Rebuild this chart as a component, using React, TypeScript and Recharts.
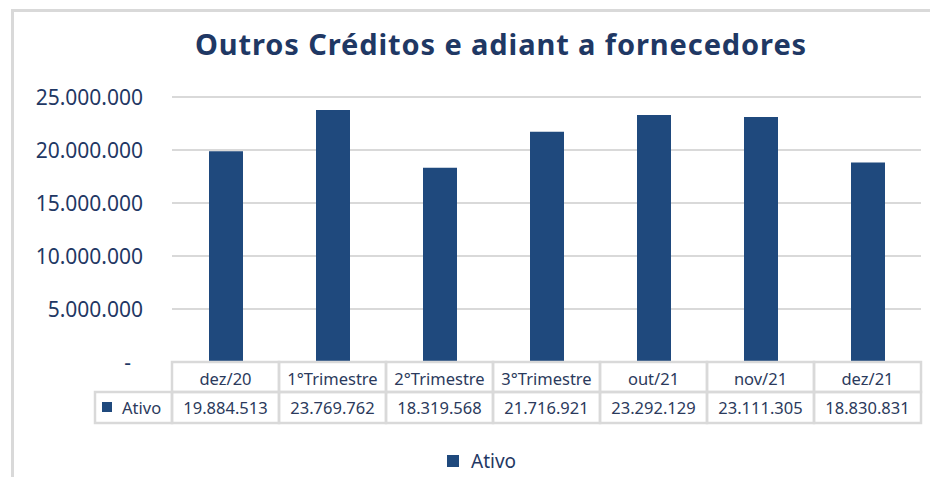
import React from "react";
import { BarChart, Bar, XAxis, YAxis, CartesianGrid, Legend } from "recharts";

const categories = ["dez/20", "1°Trimestre", "2°Trimestre", "3°Trimestre", "out/21", "nov/21", "dez/21"];
const ativoValues = [19884513, 23769762, 18319568, 21716921, 23292129, 23111305, 18830831];
const yTicks = [0, 5000000, 10000000, 15000000, 20000000, 25000000];
const seriesName = "Ativo";
const titleText = "Outros Créditos e adiant a fornecedores";

const data = categories.map((c, i) => ({ category: c, ativo: ativoValues[i] }));

const W = 930;
const H = 477;
const MARGIN = { top: 97, right: 9, bottom: 4, left: 12 };
const Y_W = 160;
const X_H = 61;
const LEGEND_H = 50;
const PLOT_LEFT = MARGIN.left + Y_W;
const PLOT_W = W - PLOT_LEFT - MARGIN.right;
const CELL_W = PLOT_W / categories.length;
const HEAD_H = 30;
const ROW_H = 31;
const LEG_CELL_W = 77;

const BAR = "#1F497D";
const TEXT = "#1F3864";
const TABLE_TEXT = "#2B3A5C";
const GRID = "#D9D9D9";
const FONT = "'Noto Sans', 'Open Sans', sans-serif";

const fmt = (n: number) => String(Math.round(n)).replace(/\B(?=(\d{3})+(?!\d))/g, ".");

const YTick = (props: any) => {
  const { x, y, payload } = props;
  const v = payload.value;
  if (v === 0) {
    return (
      <text x={x - 12} y={y} textAnchor="end" dominantBaseline="central" fill={TEXT} fontSize={21} fontFamily={FONT}>
        -
      </text>
    );
  }
  return (
    <text x={x} y={y} textAnchor="end" dominantBaseline="central" fill={TEXT} fontSize={21} fontFamily={FONT}>
      {fmt(v)}
    </text>
  );
};

const TableTick = (props: any) => {
  const { x, y, payload } = props;
  const idx = categories.indexOf(payload.value);
  const left = x - CELL_W / 2;
  return (
    <g>
      <rect x={left} y={y} width={CELL_W} height={HEAD_H} fill="none" stroke={GRID} strokeWidth={2.5} />
      <rect x={left} y={y + HEAD_H} width={CELL_W} height={ROW_H} fill="none" stroke={GRID} strokeWidth={2.5} />
      <text x={x} y={y + HEAD_H / 2 + 1} textAnchor="middle" dominantBaseline="central" fill={TABLE_TEXT} fontSize={16.5} fontFamily={FONT}>
        {payload.value}
      </text>
      <text x={x} y={y + HEAD_H + ROW_H / 2} textAnchor="middle" dominantBaseline="central" fill={TABLE_TEXT} fontSize={16.5} fontFamily={FONT}>
        {fmt(ativoValues[idx])}
      </text>
      {idx === 0 && (
        <g>
          <rect x={left - LEG_CELL_W} y={y + HEAD_H} width={LEG_CELL_W} height={ROW_H} fill="none" stroke={GRID} strokeWidth={2.5} />
          <rect x={left - LEG_CELL_W + 7} y={y + HEAD_H + 10} width={10} height={10} fill={BAR} />
          <text x={left - LEG_CELL_W + 27} y={y + HEAD_H + ROW_H / 2} dominantBaseline="central" fill={TABLE_TEXT} fontSize={16.5} fontFamily={FONT}>
            {seriesName}
          </text>
        </g>
      )}
    </g>
  );
};

const LegendContent = () => (
  <div style={{ height: LEGEND_H, boxSizing: "border-box", paddingTop: 26, paddingLeft: 435, display: "flex", alignItems: "center", fontFamily: FONT }}>
    <div style={{ display: "flex", alignItems: "center", height: 22 }}>
      <span style={{ display: "inline-block", width: 12, height: 12, background: BAR, marginRight: 12 }} />
      <span style={{ color: TEXT, fontSize: 19, lineHeight: "22px" }}>{seriesName}</span>
    </div>
  </div>
);

export default function App() {
  return (
    <div style={{ position: "absolute", left: 0, top: 0, width: W, height: H, background: "#fff", overflow: "hidden" }}>
      <div
        style={{
          position: "absolute",
          left: 11,
          top: 9,
          width: W - 11,
          height: H - 9,
          boxSizing: "border-box",
          borderTop: `3px solid ${GRID}`,
          borderLeft: `3px solid ${GRID}`,
        }}
      />
      <div style={{ position: "absolute", left: 0, top: 0 }}>
        <BarChart width={W} height={H} data={data} margin={MARGIN}>
          <CartesianGrid vertical={false} stroke={GRID} strokeWidth={2} />
          <XAxis
            dataKey="category"
            height={X_H}
            interval={0}
            axisLine={false}
            tickLine={false}
            tickSize={0}
            tickMargin={0}
            tick={<TableTick />}
          />
          <YAxis
            width={Y_W}
            domain={[0, 25000000]}
            ticks={yTicks}
            axisLine={false}
            tickLine={false}
            tickSize={0}
            tickMargin={29}
            tick={<YTick />}
          />
          <Legend verticalAlign="bottom" align="left" content={<LegendContent />} wrapperStyle={{ height: LEGEND_H }} />
          <Bar dataKey="ativo" name={seriesName} fill={BAR} barSize={34} isAnimationActive={false} />
        </BarChart>
      </div>
      <svg width={W} height={80} style={{ position: "absolute", left: 0, top: 0 }}>
        <text x={501} y={55} textAnchor="middle" fill={TEXT} fontSize={29} fontWeight="bold" letterSpacing={0.9} fontFamily={FONT}>
          {titleText}
        </text>
      </svg>
    </div>
  );
}
